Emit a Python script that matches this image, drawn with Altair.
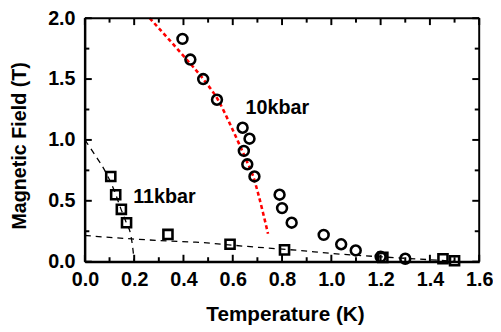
import altair as alt
import pandas as pd

FONT = "Liberation Sans"

# ---- data ----
circle_T = [0.396, 0.428, 0.48, 0.536, 0.64, 0.668, 0.645, 0.659, 0.688, 0.79, 0.80, 0.839, 0.969, 1.04, 1.099, 1.20, 1.30]
circle_H = [1.83, 1.66, 1.50, 1.33, 1.10, 1.01, 0.91, 0.80, 0.70, 0.55, 0.44, 0.32, 0.22, 0.143, 0.092, 0.04, 0.024]

square_T = [0.105, 0.125, 0.148, 0.169, 0.337, 0.589, 0.81, 1.209, 1.453, 1.50]
square_H = [0.70, 0.55, 0.43, 0.32, 0.224, 0.143, 0.097, 0.035, 0.024, 0.008]

red_T = [0.263, 0.40, 0.48, 0.54, 0.589, 0.623, 0.656, 0.683, 0.703, 0.723, 0.743]
red_H = [2.0, 1.69, 1.50, 1.33, 1.13, 0.98, 0.83, 0.70, 0.56, 0.40, 0.23]

steep_T = [0.0, 0.04, 0.083, 0.12, 0.145, 0.168, 0.187, 0.195, 0.2]
steep_H = [1.0, 0.88, 0.74, 0.58, 0.44, 0.32, 0.21, 0.10, 0.0]

flat_T = [0.0, 0.19, 0.34, 0.45, 0.66, 0.87, 1.0, 1.2, 1.4, 1.5]
flat_H = [0.215, 0.187, 0.17, 0.16, 0.125, 0.092, 0.068, 0.04, 0.016, 0.004]

label_text = ["10kbar", "11kbar"]
label_T = [0.652, 0.196]
label_H = [1.215, 0.486]

x_major = [0.0, 0.2, 0.4, 0.6, 0.8, 1.0, 1.2, 1.4, 1.6]
x_minor = [0.1, 0.3, 0.5, 0.7, 0.9, 1.1, 1.3, 1.5]
y_major = [0.0, 0.5, 1.0, 1.5, 2.0]
y_minor = [0.25, 0.75, 1.25, 1.75]

X0, X1 = 0.0, 1.6
Y0, Y1 = 0.0, 2.0

W, H = 400, 247
MAJ, MIN = 7, 4.5  # tick lengths in pixels
px_x = (X1 - X0) / W
px_y = (Y1 - Y0) / H

xs = alt.Scale(domain=[X0, X1], nice=False, zero=False)
ys = alt.Scale(domain=[Y0, Y1], nice=False, zero=False)

xaxis = alt.Axis(values=x_major, format=".1f", ticks=False, grid=False,
                 domain=True, domainColor="black", domainWidth=2,
                 labelFont=FONT, labelFontSize=20, labelFontWeight="bold", labelColor="black",
                 labelPadding=8, labelOverlap=False, labelFlush=False, labelBound=False,
                 title="Temperature (K)", titleFont=FONT, titleFontSize=21, titleFontWeight="bold",
                 titleColor="black", titleX=203, titleY=60, titleBaseline="alphabetic")
yaxis = alt.Axis(values=y_major, format=".1f", ticks=False, grid=False,
                 domain=True, domainColor="black", domainWidth=2,
                 labelFont=FONT, labelFontSize=20, labelFontWeight="bold", labelColor="black",
                 labelPadding=10, labelOverlap=False, labelFlush=False, labelBound=False,
                 title="Magnetic Field (T)", titleFont=FONT, titleFontSize=20, titleFontWeight="bold",
                 titleColor="black", titleX=-60, titleY=129, titleAngle=270, titleBaseline="alphabetic")

X = alt.X("T:Q", scale=xs, axis=xaxis)
Y = alt.Y("H:Q", scale=ys, axis=yaxis)

circ = pd.DataFrame({"T": circle_T, "H": circle_H})
sq = pd.DataFrame({"T": square_T, "H": square_H})
red = pd.DataFrame({"T": red_T, "H": red_H})
steep = pd.DataFrame({"T": steep_T, "H": steep_H})
flat = pd.DataFrame({"T": flat_T, "H": flat_H})
labels = pd.DataFrame({"T": label_T, "H": label_H, "txt": label_text})

# frame and inward ticks (mirrored on all four sides), built from the tick lists
segs = []
segs += [(X0, X1, Y0, Y0), (X0, X1, Y1, Y1), (X0, X0, Y0, Y1), (X1, X1, Y0, Y1)]
for vals, L in ((x_major, MAJ), (x_minor, MIN)):
    for v in vals:
        segs.append((v, v, Y0, Y0 + L * px_y))
        segs.append((v, v, Y1, Y1 - L * px_y))
for vals, L in ((y_major, MAJ), (y_minor, MIN)):
    for v in vals:
        segs.append((X0, X0 + L * px_x, v, v))
        segs.append((X1, X1 - L * px_x, v, v))
long_rows = []
for i, (a, b, c, d) in enumerate(segs):
    long_rows.append({"seg": i, "o": 0, "T": a, "H": c})
    long_rows.append({"seg": i, "o": 1, "T": b, "H": d})
deco = pd.DataFrame(long_rows)

frame = alt.Chart(deco).mark_line(color="black", strokeWidth=2, strokeDash=[600, 1]).encode(
    x=X, y=Y, detail="seg:N", order="o:Q")

red_line = alt.Chart(red).mark_line(color="#ff0000", strokeWidth=2.6, strokeDash=[4, 3],
                                    interpolate="monotone").encode(x=X, y=Y)
steep_line = alt.Chart(steep).mark_line(color="black", strokeWidth=1.3, strokeDash=[6, 5],
                                        interpolate="monotone").encode(x=X, y=Y)
flat_line = alt.Chart(flat).mark_line(color="black", strokeWidth=1.3, strokeDash=[6, 5],
                                      interpolate="monotone").encode(x=X, y=Y)

circles = alt.Chart(circ).mark_point(shape="circle", filled=False, color="black",
                                     size=100, strokeWidth=2.6, opacity=1).encode(x=X, y=Y)
squares = alt.Chart(sq).mark_point(shape="square", filled=False, color="black",
                                   size=85, strokeWidth=2.6, opacity=1).encode(x=X, y=Y)

texts = alt.Chart(labels).mark_text(font=FONT, fontSize=20, fontWeight="bold", color="black",
                                    align="left", baseline="alphabetic").encode(x=X, y=Y, text="txt:N")

chart = alt.layer(steep_line, flat_line, red_line, circles, squares, texts, frame).properties(
    width=W, height=H,
    background="white",
    autosize=alt.AutoSizeParams(type="none"),
    padding={"left": 78, "top": 8, "right": 14, "bottom": 69},
).configure_view(strokeWidth=0)

chart.save("out.html", embed_options={"renderer": "svg", "actions": False})
